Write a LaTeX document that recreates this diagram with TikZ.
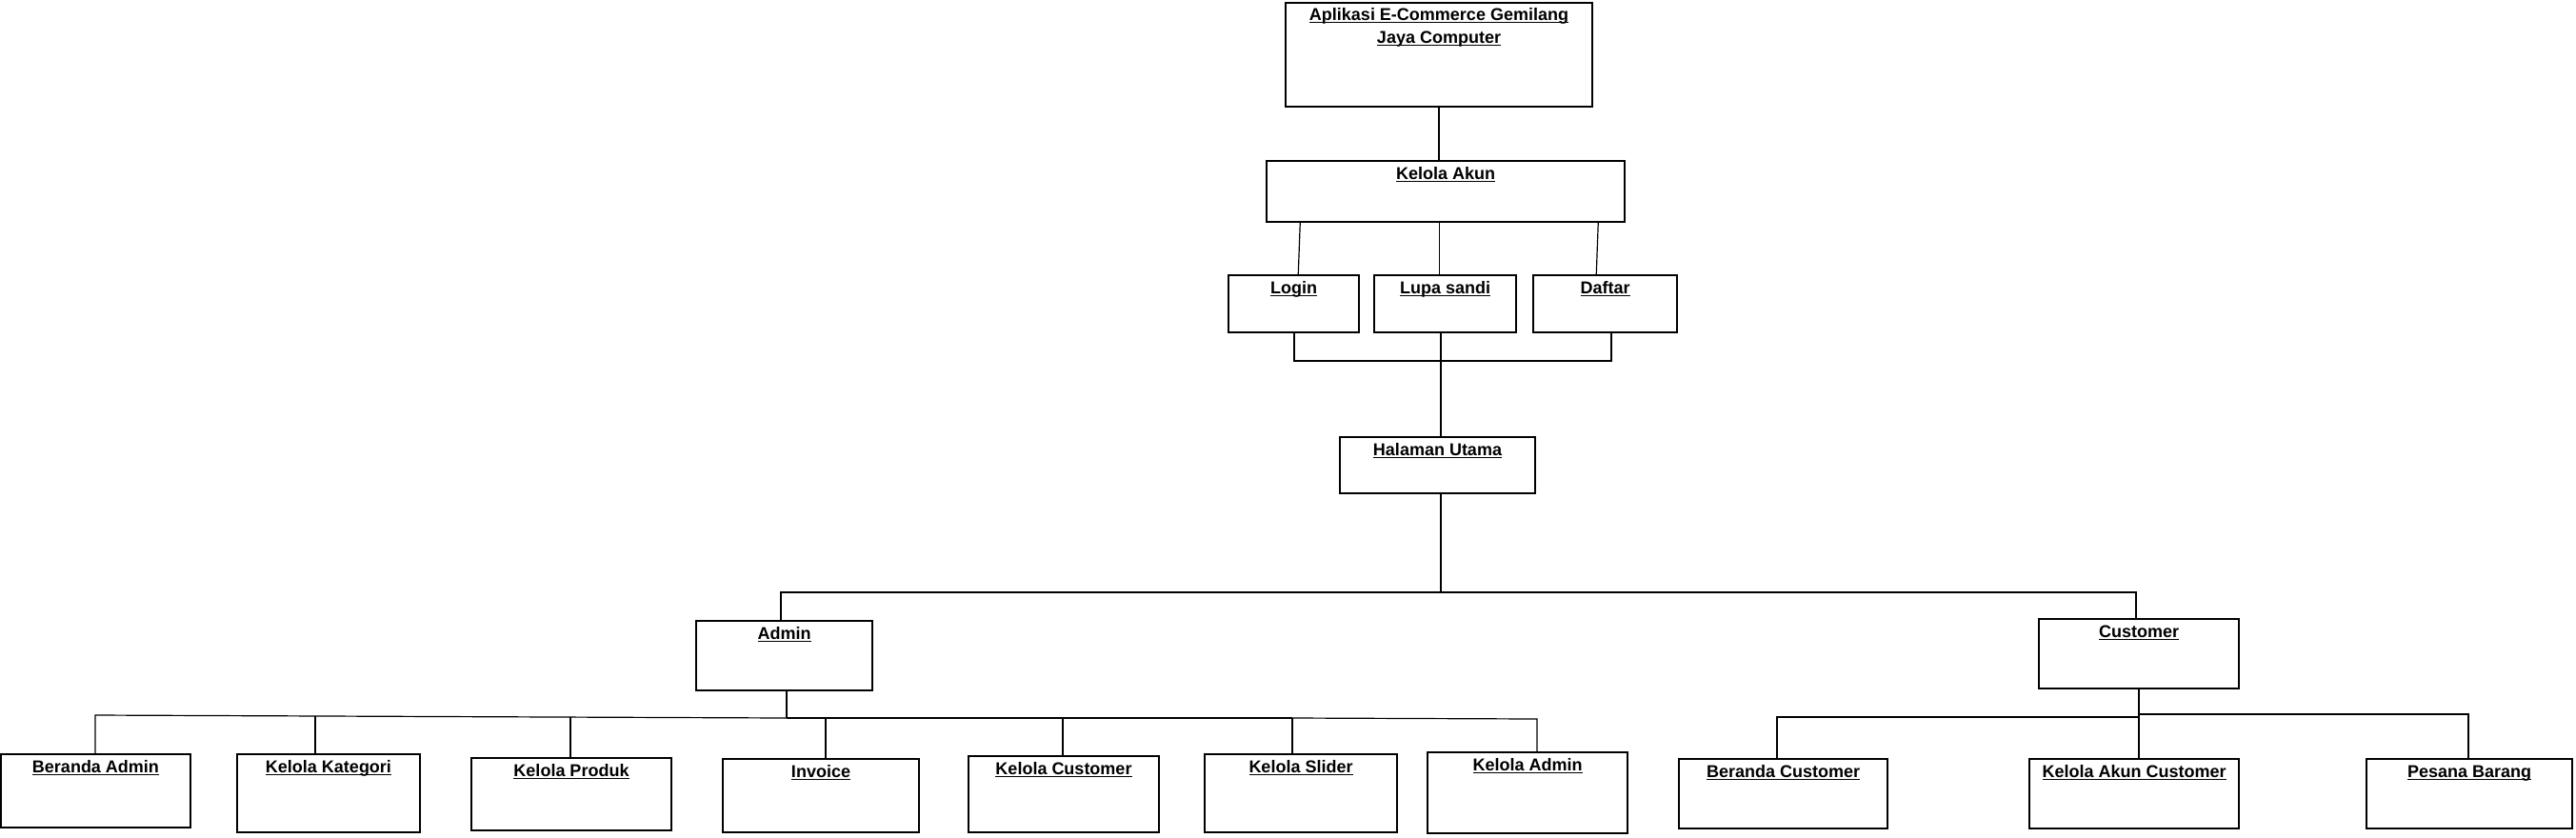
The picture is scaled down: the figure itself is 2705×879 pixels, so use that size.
\documentclass[tikz,border=0pt]{standalone}
\usepackage{fontspec}
\setmainfont{Liberation Sans}
\usetikzlibrary{calc}
\newcommand\myul[1]{\leavevmode\setbox0\hbox{#1}\rlap{\rule[-2.6pt]{\wd0}{1.3pt}}\box0}
\tikzset{
  box/.style={draw, line width=1.5pt, inner sep=0pt},
  lbl/.style={inner sep=0pt, font=\fontsize{18}{22}\selectfont\bfseries},
  conn/.style={line width=1.2pt},
  heavyconn/.style={line width=2.4pt},
}
\newcommand\mkbox[6]{%
  \node[box, minimum width={#4-#2}, minimum height={#5-#3}] (#1) at ({(#2+#4)/2},{(#3+#5)/2}) {};
  \node[lbl, anchor=base] (#1-t) at ([yshift=-20pt]#1.north) {\myul{#6}};
}
\begin{document}
\begin{tikzpicture}[x=1pt,y=-1pt]
\useasboundingbox (0,0) rectangle (2705,879);
% top box
\node[box, minimum width=322, minimum height=109] (top) at (1511,57.5) {};
\node[lbl, anchor=base] (top-t1) at ([yshift=-19pt]top.north) {\myul{Aplikasi E-Commerce Gemilang}};
\node[lbl, anchor=base] (top-t2) at ([yshift=-43pt]top.north) {\myul{Jaya Computer}};
\mkbox{ka}{1330}{169}{1706}{233}{Kelola Akun}
\mkbox{login}{1290}{289}{1427}{349}{Login}
\mkbox{lupa}{1443}{289}{1592}{349}{Lupa sandi}
\mkbox{daftar}{1610}{289}{1761}{349}{Daftar}
\mkbox{hu}{1407}{459}{1612}{518}{Halaman Utama}
\mkbox{admin}{731}{652}{916}{725}{Admin}
\mkbox{customer}{2141}{650}{2351}{723}{Customer}
\mkbox{ba}{1}{792}{200}{869}{Beranda Admin}
\mkbox{kk}{249}{792}{441}{874}{Kelola Kategori}
\mkbox{kp}{495}{796}{705}{872}{Kelola Produk}
\mkbox{inv}{759}{797}{965}{874}{Invoice}
\mkbox{kc}{1017}{794}{1217}{874}{Kelola Customer}
\mkbox{ks}{1265}{792}{1467}{874}{Kelola Slider}
\mkbox{kadm}{1499}{790}{1709}{875}{Kelola Admin}
\mkbox{bc}{1763}{797}{1982}{870}{Beranda Customer}
\mkbox{kac}{2131}{797}{2351}{870}{Kelola Akun Customer}
\mkbox{pb}{2485}{797}{2701}{870}{Pesana Barang}

% top -> kelola akun
\draw[conn] (top.south) -- (top.south |- ka.north);
% kelola akun -> login / lupa / daftar
\draw[conn] ($(ka.south west)+(36,0)$) -- ($(login.north west)+(74,0)$);
\draw[conn] ($(ka.south west)+(182,0)$) -- ($(lupa.north west)+(69,0)$);
\draw[conn] ($(ka.south west)+(349,0)$) -- ($(daftar.north west)+(67,0)$);
% bracket to halaman utama
\coordinate (j1) at (1513,379);
\coordinate (bl) at (1359,379);
\coordinate (br) at (1692,379);
\draw[conn] (login.south -| bl) -- (bl) -- (br) -- (daftar.south -| br);
\draw[conn] (lupa.south -| j1) -- (j1);
\draw[heavyconn] (j1) -- (j1 |- hu.north);
% halaman utama -> admin / customer
\coordinate (j2) at (1513,622);
\coordinate (aL) at (820,622);
\coordinate (cR) at (2243,622);
\draw[conn] (hu.south -| j2) -- (j2);
\draw[conn] (admin.north -| aL) -- (aL) -- (cR) -- (cR |- customer.north);
% admin children
\coordinate (aj) at (826,754);
\coordinate (abl) at (100,751);
\coordinate (as) at (1357,754);
\coordinate (ae) at (1614,755);
\draw[heavyconn] (admin.south -| aj) -- (aj);
\draw[conn] (ba.north -| abl) -- (abl) -- (aj);
\draw[heavyconn] (aj) -- (as);
\draw[conn] (as) -- (ae) -- (ae |- kadm.north);
\coordinate (akk) at (331,752);
\coordinate (akp) at (599,753);
\coordinate (ainv) at (867,754);
\coordinate (akc) at (1116,754);
\draw[conn] (akk) -- (akk |- kk.north);
\draw[conn] (akp) -- (akp |- kp.north);
\draw[conn] (ainv) -- (ainv |- inv.north);
\draw[conn] (akc) -- (akc |- kc.north);
\draw[conn] (as) -- (as |- ks.north);
% customer children
\coordinate (cm) at (2246,750);
\coordinate (cl) at (1866,753);
\coordinate (cr) at (2592,750);
\draw[conn] (customer.south -| cm) -- (cm) -- (cr) -- (cr |- pb.north);
\draw[conn] (bc.north -| cl) -- (cl) -- (cl -| cm);
\draw[conn] (cm) -- (cm |- kac.north);
\end{tikzpicture}
\end{document}
